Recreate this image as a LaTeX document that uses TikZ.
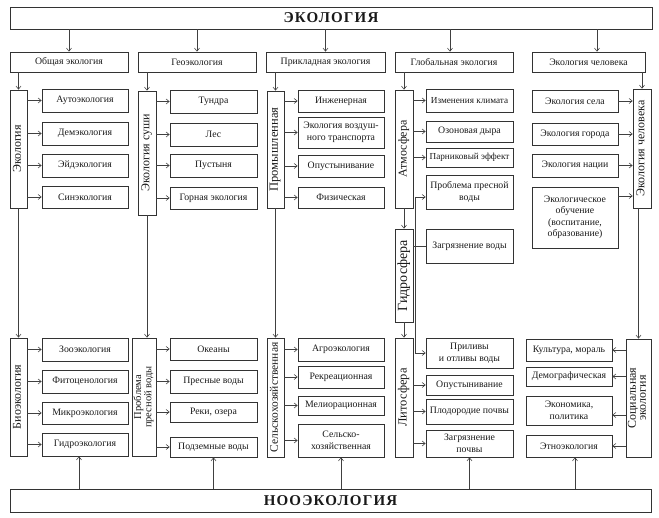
\documentclass[tikz,border=0pt]{standalone}
\usepackage{fontspec}
\setmainfont{Liberation Serif}
\newfontfamily\titlefont[LetterSpace=8]{Liberation Serif}
\usetikzlibrary{arrows.meta}
\newcommand\vtext[1]{\rotatebox{90}{\begin{tabular}{@{}c@{}}#1\end{tabular}}}

\begin{document}
\begin{tikzpicture}
[x=1pt, y=-1pt,
every node/.style={inner sep=1pt, text=black!90, font=\fontsize{9.8}{11.5}\selectfont},
box/.style={rectangle, draw=black!80, line width=0.8pt, align=center},
vbox/.style={box, font=\fontsize{12}{11}\selectfont},
title/.style={box, font=\titlefont\bfseries\fontsize{15}{16}\selectfont},
arr/.style={line width=0.6pt, draw=black!75, -{Straight Barb[length=3pt, width=5pt]}},
bus/.style={line width=0.6pt, draw=black!75}]
\useasboundingbox (0,0) rectangle (659,518);
\node (eco) [title, minimum width=642pt, minimum height=22pt] at (331,18) {ЭКОЛОГИЯ};
\node (noo) [title, minimum width=641pt, minimum height=23pt] at (330.5,500.5) {НООЭКОЛОГИЯ};
\node (obsh) [box, minimum width=118pt, minimum height=20pt] at (69,62) {Общая экология};
\node (geo) [box, minimum width=118pt, minimum height=20pt] at (197,62) {Геоэкология};
\node (prikl) [box, minimum width=119pt, minimum height=20pt] at (325.5,62) {Прикладная экология};
\node (glob) [box, minimum width=118pt, minimum height=20pt] at (454,62) {Глобальная экология};
\node (chel) [box, minimum width=113pt, minimum height=20pt] at (588.5,62) {Экология человека};
\node (ekol) [vbox, minimum width=17pt, minimum height=118pt] at (18.5,149) {\vtext{Экология}};
\node (sushi) [vbox, minimum width=18pt, minimum height=124pt] at (147,153) {\vtext{Экология суши}};
\node (prom) [vbox, minimum width=17pt, minimum height=117pt, font=\fontsize{12.5}{11}\selectfont] at (275.5,149.5) {\vtext{Промышленная}};
\node (atm) [vbox, minimum width=18pt, minimum height=118pt] at (404,149) {\vtext{Атмосфера}};
\node (hydro) [vbox, minimum width=18pt, minimum height=93pt, font=\fontsize{14}{12}\selectfont] at (404,275.5) {\vtext{Гидросфера}};
\node (chelv) [vbox, minimum width=18pt, minimum height=119pt] at (642,148.5) {\vtext{Экология человека}};
\node (bio) [vbox, minimum width=17pt, minimum height=118pt] at (18.5,397) {\vtext{Биоэкология}};
\node (presn) [vbox, minimum width=24pt, minimum height=118pt, font=\fontsize{10.5}{10}\selectfont] at (144,397) {\vtext{Проблема\\пресной воды}};
\node (selh) [vbox, minimum width=17pt, minimum height=119pt, font=\fontsize{11.5}{11}\selectfont] at (275.5,397.5) {\vtext{Сельскохозяйственная}};
\node (lito) [vbox, minimum width=18pt, minimum height=119pt, font=\fontsize{12.5}{11}\selectfont] at (404,397.5) {\vtext{Литосфера}};
\node (soc) [vbox, minimum width=25pt, minimum height=118pt, font=\fontsize{12}{10}\selectfont] at (638.5,398) {\vtext{Социальная\\экология}};
\node (auto) [box, minimum width=86pt, minimum height=23pt] at (85,100.5) {Аутоэкология};
\node (dem) [box, minimum width=86pt, minimum height=23pt] at (85,133.5) {Демэкология};
\node (eid) [box, minimum width=86pt, minimum height=23pt] at (85,165.5) {Эйдэкология};
\node (sin) [box, minimum width=86pt, minimum height=22pt] at (85,197) {Синэкология};
\node (zoo) [box, minimum width=86pt, minimum height=23pt] at (85,349.5) {Зооэкология};
\node (fito) [box, minimum width=86pt, minimum height=23pt] at (85,381.5) {Фитоценология};
\node (mikro) [box, minimum width=86pt, minimum height=22pt] at (85,413) {Микроэкология};
\node (gidro) [box, minimum width=86pt, minimum height=23pt] at (85,444.5) {Гидроэкология};
\node (tundra) [box, minimum width=87pt, minimum height=23pt] at (213.5,101.5) {Тундра};
\node (les) [box, minimum width=87pt, minimum height=23pt] at (213.5,134.5) {Лес};
\node (pust) [box, minimum width=87pt, minimum height=23pt] at (213.5,165.5) {Пустыня};
\node (gorn) [box, minimum width=87pt, minimum height=22pt] at (213.5,198) {Горная экология};
\node (okean) [box, minimum width=87pt, minimum height=22pt] at (213.5,349) {Океаны};
\node (presv) [box, minimum width=87pt, minimum height=23pt] at (213.5,381.5) {Пресные воды};
\node (reki) [box, minimum width=87pt, minimum height=20pt] at (213.5,412) {Реки, озера};
\node (podz) [box, minimum width=87pt, minimum height=20pt] at (213.5,447) {Подземные воды};
\node (inzh) [box, minimum width=86pt, minimum height=22pt] at (341,101) {Инженерная};
\node (vozd) [box, minimum width=86pt, minimum height=31pt] at (341,132.5) {Экология воздуш-\\ного транспорта};
\node (opust) [box, minimum width=86pt, minimum height=22pt] at (341,166) {Опустынивание};
\node (fiz) [box, minimum width=86pt, minimum height=21pt] at (341,197.5) {Физическая};
\node (agro) [box, minimum width=86pt, minimum height=23pt] at (341,349.5) {Агроэкология};
\node (rekr) [box, minimum width=86pt, minimum height=22pt] at (341,377) {Рекреационная};
\node (melio) [box, minimum width=86pt, minimum height=19pt] at (341,405.5) {Мелиорационная};
\node (selsk) [box, minimum width=86pt, minimum height=33pt] at (341,440.5) {Сельско-\\хозяйственная};
\node (klimat) [box, minimum width=87pt, minimum height=23pt, font=\fontsize{9.2}{11}\selectfont] at (469.5,100.5) {Изменения климата};
\node (ozon) [box, minimum width=87pt, minimum height=21pt] at (469.5,131.5) {Озоновая дыра};
\node (parnik) [box, minimum width=87pt, minimum height=19pt, font=\fontsize{9.2}{11}\selectfont] at (469.5,157.5) {Парниковый эффект};
\node (probl) [box, minimum width=87pt, minimum height=34pt] at (469.5,192) {Проблема пресной\\воды};
\node (zagrv) [box, minimum width=87pt, minimum height=34pt] at (469.5,246) {Загрязнение воды};
\node (priliv) [box, minimum width=87pt, minimum height=30pt] at (469.5,353) {Приливы\\и отливы воды};
\node (opust2) [box, minimum width=87pt, minimum height=20pt] at (469.5,385) {Опустынивание};
\node (plodor) [box, minimum width=87pt, minimum height=25pt] at (469.5,411.5) {Плодородие почвы};
\node (zagrp) [box, minimum width=87pt, minimum height=27pt] at (469.5,443.5) {Загрязнение\\почвы};
\node (selo) [box, minimum width=86pt, minimum height=22pt] at (575,101) {Экология села};
\node (gorod) [box, minimum width=86pt, minimum height=22pt] at (575,134) {Экология города};
\node (nacii) [box, minimum width=86pt, minimum height=23pt] at (575,165.5) {Экология нации};
\node (obuch) [box, minimum width=86pt, minimum height=61pt] at (575,217.5) {Экологическое\\обучение\\(воспитание,\\образование)};
\node (kult) [box, minimum width=86pt, minimum height=22pt] at (569,350) {Культура, мораль};
\node (demogr) [box, minimum width=86pt, minimum height=19pt] at (569,376.5) {Демографическая};
\node (econ) [box, minimum width=86pt, minimum height=29pt] at (569,410.5) {Экономика,\\политика};
\node (etno) [box, minimum width=86pt, minimum height=22pt] at (569,446) {Этноэкология};
\coordinate (bt) at (415,197);
\coordinate (bb) at (415,353);
\draw [arr] (eco.south -| obsh.north) -- (obsh.north);
\draw [arr] (eco.south -| geo.north) -- (geo.north);
\draw [arr] (eco.south -| prikl.north) -- (prikl.north);
\draw [arr] ([xshift=-4pt]eco.south -| glob.north) -- ([xshift=-4pt]glob.north);
\draw [arr] ([xshift=8.5pt]eco.south -| chel.north) -- ([xshift=8.5pt]chel.north);
\draw [arr] (obsh.south -| ekol.north) -- (ekol.north);
\draw [arr] (geo.south -| sushi.north) -- (sushi.north);
\draw [arr] (prikl.south -| prom.north) -- (prom.north);
\draw [arr] (glob.south -| atm.north) -- (atm.north);
\draw [arr] (chel.south -| chelv.north) -- (chelv.north);
\draw [arr] (ekol.east |- auto) -- (auto.west);
\draw [arr] (ekol.east |- dem) -- (dem.west);
\draw [arr] (ekol.east |- eid) -- (eid.west);
\draw [arr] (ekol.east |- sin) -- (sin.west);
\draw [arr] (bio.east |- zoo) -- (zoo.west);
\draw [arr] (bio.east |- fito) -- (fito.west);
\draw [arr] (bio.east |- mikro) -- (mikro.west);
\draw [arr] (bio.east |- gidro) -- (gidro.west);
\draw [arr] (sushi.east |- tundra) -- (tundra.west);
\draw [arr] (sushi.east |- les) -- (les.west);
\draw [arr] (sushi.east |- pust) -- (pust.west);
\draw [arr] (sushi.east |- gorn) -- (gorn.west);
\draw [arr] (presn.east |- okean) -- (okean.west);
\draw [arr] (presn.east |- presv) -- (presv.west);
\draw [arr] (presn.east |- reki) -- (reki.west);
\draw [arr] (presn.east |- podz) -- (podz.west);
\draw [arr] (prom.east |- inzh) -- (inzh.west);
\draw [arr] (prom.east |- vozd) -- (vozd.west);
\draw [arr] (prom.east |- opust) -- (opust.west);
\draw [arr] (prom.east |- fiz) -- (fiz.west);
\draw [arr] (selh.east |- agro) -- (agro.west);
\draw [arr] (selh.east |- rekr) -- (rekr.west);
\draw [arr] (selh.east |- melio) -- (melio.west);
\draw [arr] (selh.east |- selsk) -- (selsk.west);
\draw [arr] (atm.east |- klimat) -- (klimat.west);
\draw [arr] (atm.east |- ozon) -- (ozon.west);
\draw [arr] (atm.east |- parnik) -- (parnik.west);
\draw [arr] (atm.south) -- (hydro.north);
\draw [arr] (hydro.south) -- (lito.north);
\draw [bus] (bt) -- (bb);
\draw [arr] (bt) -- (bt -| probl.west);
\draw [arr] (bb) -- (bb -| priliv.west);
\draw [bus] (hydro.east |- zagrv) -- (zagrv.west);
\draw [arr] (lito.east |- opust2) -- (opust2.west);
\draw [arr] (lito.east |- plodor) -- (plodor.west);
\draw [arr] (lito.east |- zagrp) -- (zagrp.west);
\draw [arr] (selo.east) -- (selo -| chelv.west);
\draw [arr] (gorod.east) -- (gorod -| chelv.west);
\draw [arr] (nacii.east) -- (nacii -| chelv.west);
\draw [arr] ([yshift=21.5pt]obuch.east) -- ([yshift=21.5pt]obuch.east -| chelv.west);
\draw [arr] (soc.west |- kult) -- (kult.east);
\draw [arr] (soc.west |- demogr) -- (demogr.east);
\draw [arr] ([yshift=-4.5pt]soc.west |- econ) -- ([yshift=-4.5pt]econ.east);
\draw [arr] (soc.west |- etno) -- (etno.east);
\draw [arr] (ekol.south) -- (bio.north);
\draw [arr] (sushi.south) -- (sushi.south |- presn.north);
\draw [arr] (prom.south) -- (selh.north);
\draw [arr] (chelv.south -| soc.north) -- (soc.north);
\draw [arr] ([xshift=-6pt]noo.north -| gidro.south) -- ([xshift=-6pt]gidro.south);
\draw [arr] (noo.north -| podz.south) -- (podz.south);
\draw [arr] (noo.north -| selsk.south) -- (selsk.south);
\draw [arr] (noo.north -| zagrp.south) -- (zagrp.south);
\draw [arr] ([xshift=6pt]noo.north -| etno.south) -- ([xshift=6pt]etno.south);
\end{tikzpicture}
\end{document}
